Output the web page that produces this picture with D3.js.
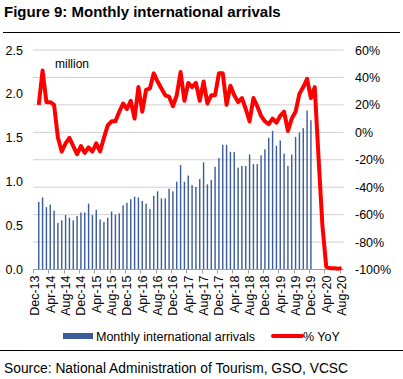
<!DOCTYPE html>
<html>
<head>
<meta charset="utf-8">
<script src="https://cdn.jsdelivr.net/npm/d3@7"></script>
<style>
  body { margin: 0; background: #fff; }
  svg { display: block; font-family: "Liberation Sans", Arial, sans-serif; }
</style>
</head>
<body>
<div id="chart"></div>
<script>
// months on the axis, Dec-13 .. Aug-20 (data starts Jan-14)
const months = d3.timeMonths(new Date(2013, 11, 1), new Date(2020, 8, 1)).map(d3.timeFormat("%b-%y"));

// tick labels, every 4 months
const tickLabels = ["Dec-13", "Apr-14", "Aug-14", "Dec-14", "Apr-15", "Aug-15", "Dec-15", "Apr-16", "Aug-16",
  "Dec-16", "Apr-17", "Aug-17", "Dec-17", "Apr-18", "Aug-18", "Dec-18", "Apr-19", "Aug-19", "Dec-19", "Apr-20", "Aug-20"];

// monthly international arrivals, million (Dec-13 has no bar)
const arrivals = [null,
  0.77, 0.82, 0.71, 0.74, 0.67, 0.53, 0.56, 0.62, 0.59, 0.56, 0.61, 0.65,   // 2014
  0.65, 0.75, 0.62, 0.68, 0.57, 0.54, 0.59, 0.66, 0.625, 0.64, 0.73, 0.76,  // 2015
  0.80, 0.83, 0.82, 0.78, 0.75, 0.69, 0.84, 0.89, 0.81, 0.81, 0.92, 0.89,   // 2016
  1.00, 1.19, 1.00, 1.07, 0.96, 0.94, 1.03, 1.22, 0.97, 1.02, 1.17, 1.27,   // 2017
  1.42, 1.42, 1.34, 1.34, 1.16, 1.18, 1.18, 1.31, 1.20, 1.20, 1.30, 1.37,   // 2018
  1.50, 1.58, 1.41, 1.47, 1.32, 1.18, 1.31, 1.51, 1.56, 1.61, 1.81, 1.70,   // 2019
  null, null, null, null, null, null, null, null];                          // 2020

// % YoY
const yoy = [null,
  20, 45, 22, 22, 20, -4, -14, -8, -4, -10, -16, -10,
  -15, -11, -14, -8, -14, -4, 5, 8, 8, 15, 21, 17,
  23, 10, 33, 15, 31, 32, 43, 37, 32, 27, 26, 19,
  27, 44, 23, 36, 33, 36, 23, 37, 21, 27, 27, 43,
  43, 20, 34, 27, 22, 25, 17, 8, 25, 19, 12, 8,
  6, 10, 7, 12, 15, 1, 10, 15, 28, 33, 39, 25,
  33, -19, -68, -98, -99, -99, -99.5, -99];

const leftTicks = [0, 0.5, 1.0, 1.5, 2.0, 2.5];
const rightTicks = [-100, -80, -60, -40, -20, 0, 20, 40, 60];

const width = 403, height = 379;
const plotL = 33, plotR = 343.5, plotT = 50, plotB = 269.5;

const svg = d3.select("#chart").append("svg")
  .attr("width", width)
  .attr("height", height);

// title + rules
svg.append("text")
  .attr("x", 4).attr("y", 17)
  .attr("font-size", 15).attr("font-weight", "bold")
  .text("Figure 9: Monthly international arrivals");
svg.append("line").attr("x1", 3).attr("x2", 400).attr("y1", 32.5).attr("y2", 32.5)
  .attr("stroke", "#000").attr("stroke-width", 1);
svg.append("line").attr("x1", 0).attr("x2", 403).attr("y1", 350.5).attr("y2", 350.5)
  .attr("stroke", "#000").attr("stroke-width", 1);
svg.append("text")
  .attr("x", 4).attr("y", 373)
  .attr("font-size", 13.8)
  .text("Source: National Administration of Tourism, GSO, VCSC");

// scales
const x = d3.scaleBand().domain(months).range([plotL, plotR]);
const yL = d3.scaleLinear().domain([0, 2.5]).range([plotB, plotT]);
const yR = d3.scaleLinear().domain([-100, 60]).range([plotB, plotT]);

// gridlines follow the right axis
svg.append("g")
  .selectAll("line")
  .data(rightTicks.slice(1))
  .join("line")
  .attr("x1", plotL).attr("x2", plotR)
  .attr("y1", d => yR(d)).attr("y2", d => yR(d))
  .attr("stroke", "#d0d0d0");

// bars
const barW = 1.4;
svg.append("g")
  .selectAll("rect")
  .data(months.map((m, i) => ({ m: m, v: arrivals[i] })).filter(d => d.v != null))
  .join("rect")
  .attr("x", d => x(d.m) + x.bandwidth() / 2 - barW / 2)
  .attr("width", barW)
  .attr("y", d => yL(d.v))
  .attr("height", d => yL(0) - yL(d.v))
  .attr("fill", "#3a5b9c");

// x axis
svg.append("line").attr("x1", plotL).attr("x2", plotR).attr("y1", plotB).attr("y2", plotB)
  .attr("stroke", "#a0a0a0");
svg.append("g")
  .selectAll("line")
  .data(tickLabels)
  .join("line")
  .attr("x1", d => Math.round(x(d)) + 0.5).attr("x2", d => Math.round(x(d)) + 0.5)
  .attr("y1", plotB).attr("y2", plotB + 4)
  .attr("stroke", "#a0a0a0");
svg.append("g")
  .selectAll("text")
  .data(tickLabels)
  .join("text")
  .attr("transform", d => "translate(" + (x(d) + x.bandwidth() / 2 + 4.5) + "," + (plotB + 6) + ") rotate(-90)")
  .attr("text-anchor", "end")
  .attr("font-size", 12.5)
  .text(d => d);

// left axis labels
svg.append("g")
  .selectAll("text")
  .data(leftTicks)
  .join("text")
  .attr("x", 23).attr("y", d => yL(d) + 4.5)
  .attr("text-anchor", "end")
  .attr("font-size", 12.5)
  .text(d => d.toFixed(1));

// right axis labels
svg.append("g")
  .selectAll("text")
  .data(rightTicks)
  .join("text")
  .attr("x", 355).attr("y", d => yR(d) + 4.5)
  .attr("font-size", 12.5)
  .text(d => d + "%");

svg.append("text")
  .attr("x", 55).attr("y", 68)
  .attr("font-size", 12)
  .text("million");

// YoY line
const line = d3.line()
  .defined(d => d.v != null)
  .x(d => x(d.m) + x.bandwidth() / 2)
  .y(d => yR(d.v));
svg.append("path")
  .datum(months.map((m, i) => ({ m: m, v: yoy[i] })))
  .attr("d", line)
  .attr("fill", "none")
  .attr("stroke", "#ff0000")
  .attr("stroke-width", 4)
  .attr("stroke-linejoin", "round");

// legend
svg.append("rect").attr("x", 63).attr("y", 333).attr("width", 30).attr("height", 6).attr("fill", "#3a5b9c");
svg.append("text").attr("x", 96).attr("y", 341).attr("font-size", 12.5).text("Monthly international arrivals");
svg.append("line").attr("x1", 273).attr("x2", 302).attr("y1", 336).attr("y2", 336)
  .attr("stroke", "#ff0000").attr("stroke-width", 4).attr("stroke-linecap", "round");
svg.append("text").attr("x", 303).attr("y", 341).attr("font-size", 12.5).text("% YoY");
</script>
</body>
</html>
